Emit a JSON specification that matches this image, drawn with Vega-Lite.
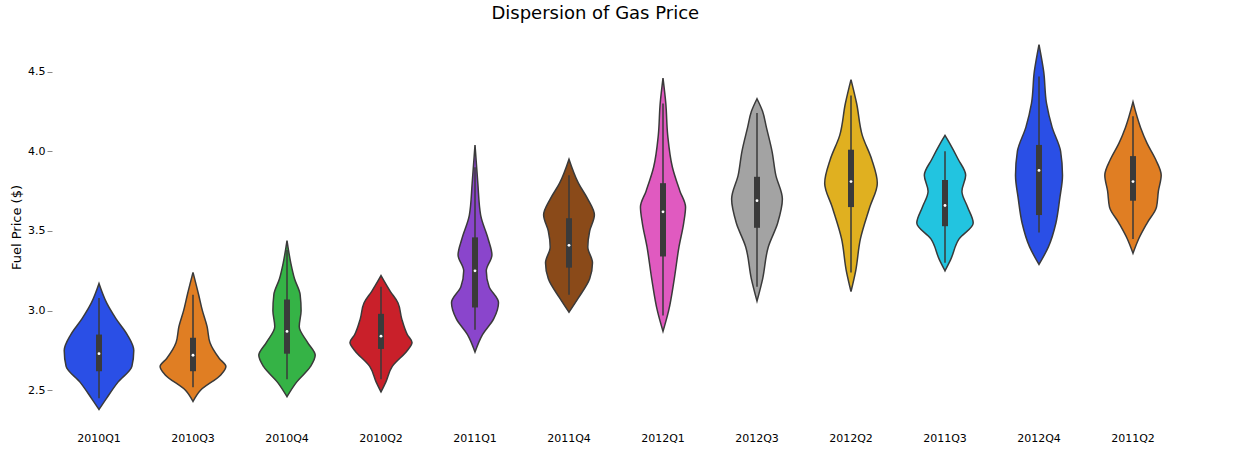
{
  "$schema": "https://vega.github.io/schema/vega-lite/v6.json",
  "title": {"text": "Dispersion of Gas Price", "fontSize": 18, "fontWeight": "normal", "font": "DejaVu Sans", "color": "black", "anchor": "middle"},
  "config": {"view": {"stroke": null}, "font": "DejaVu Sans", "axis": {"labelFontSize": 11, "titleFontSize": 13, "titleFontWeight": "normal", "labelColor": "black", "titleColor": "black"}},
  "background": "white",
  "padding": {"left": 10, "top": 5, "right": 10, "bottom": 5},
  "data": {"values": [
    {"q":"2010Q1","p":2.38,"w":0,"n":0},{"q":"2010Q1","p":2.45,"w":8,"n":-8},{"q":"2010Q1","p":2.55,"w":20,"n":-20},{"q":"2010Q1","p":2.65,"w":35,"n":-35},{"q":"2010Q1","p":2.75,"w":37,"n":-37},{"q":"2010Q1","p":2.85,"w":30,"n":-30},{"q":"2010Q1","p":2.95,"w":18,"n":-18},{"q":"2010Q1","p":3.05,"w":8,"n":-8},{"q":"2010Q1","p":3.17,"w":0,"n":0},
    {"q":"2010Q3","p":2.43,"w":0,"n":0},{"q":"2010Q3","p":2.5,"w":8,"n":-8},{"q":"2010Q3","p":2.6,"w":30,"n":-30},{"q":"2010Q3","p":2.65,"w":35,"n":-35},{"q":"2010Q3","p":2.7,"w":28,"n":-28},{"q":"2010Q3","p":2.8,"w":18,"n":-18},{"q":"2010Q3","p":2.9,"w":15,"n":-15},{"q":"2010Q3","p":3.0,"w":10,"n":-10},{"q":"2010Q3","p":3.1,"w":6,"n":-6},{"q":"2010Q3","p":3.24,"w":0,"n":0},
    {"q":"2010Q4","p":2.46,"w":0,"n":0},{"q":"2010Q4","p":2.55,"w":10,"n":-10},{"q":"2010Q4","p":2.65,"w":25,"n":-25},{"q":"2010Q4","p":2.72,"w":30,"n":-30},{"q":"2010Q4","p":2.8,"w":22,"n":-22},{"q":"2010Q4","p":2.9,"w":13,"n":-13},{"q":"2010Q4","p":3.0,"w":15,"n":-15},{"q":"2010Q4","p":3.1,"w":14,"n":-14},{"q":"2010Q4","p":3.2,"w":8,"n":-8},{"q":"2010Q4","p":3.3,"w":4,"n":-4},{"q":"2010Q4","p":3.44,"w":0,"n":0},
    {"q":"2010Q2","p":2.49,"w":0,"n":0},{"q":"2010Q2","p":2.55,"w":5,"n":-5},{"q":"2010Q2","p":2.65,"w":12,"n":-12},{"q":"2010Q2","p":2.75,"w":28,"n":-28},{"q":"2010Q2","p":2.8,"w":33,"n":-33},{"q":"2010Q2","p":2.85,"w":28,"n":-28},{"q":"2010Q2","p":2.95,"w":22,"n":-22},{"q":"2010Q2","p":3.05,"w":18,"n":-18},{"q":"2010Q2","p":3.12,"w":10,"n":-10},{"q":"2010Q2","p":3.22,"w":0,"n":0},
    {"q":"2011Q1","p":2.74,"w":0,"n":0},{"q":"2011Q1","p":2.85,"w":8,"n":-8},{"q":"2011Q1","p":2.95,"w":20,"n":-20},{"q":"2011Q1","p":3.05,"w":25,"n":-25},{"q":"2011Q1","p":3.15,"w":15,"n":-15},{"q":"2011Q1","p":3.25,"w":12,"n":-12},{"q":"2011Q1","p":3.35,"w":18,"n":-18},{"q":"2011Q1","p":3.45,"w":14,"n":-14},{"q":"2011Q1","p":3.6,"w":6,"n":-6},{"q":"2011Q1","p":3.8,"w":3,"n":-3},{"q":"2011Q1","p":4.04,"w":0,"n":0},
    {"q":"2011Q4","p":2.99,"w":0,"n":0},{"q":"2011Q4","p":3.08,"w":10,"n":-10},{"q":"2011Q4","p":3.2,"w":22,"n":-22},{"q":"2011Q4","p":3.3,"w":25,"n":-25},{"q":"2011Q4","p":3.4,"w":20,"n":-20},{"q":"2011Q4","p":3.5,"w":22,"n":-22},{"q":"2011Q4","p":3.6,"w":27,"n":-27},{"q":"2011Q4","p":3.7,"w":20,"n":-20},{"q":"2011Q4","p":3.8,"w":10,"n":-10},{"q":"2011Q4","p":3.95,"w":0,"n":0},
    {"q":"2012Q1","p":2.87,"w":0,"n":0},{"q":"2012Q1","p":3.0,"w":6,"n":-6},{"q":"2012Q1","p":3.2,"w":12,"n":-12},{"q":"2012Q1","p":3.4,"w":17,"n":-17},{"q":"2012Q1","p":3.55,"w":22,"n":-22},{"q":"2012Q1","p":3.65,"w":24,"n":-24},{"q":"2012Q1","p":3.75,"w":18,"n":-18},{"q":"2012Q1","p":3.9,"w":10,"n":-10},{"q":"2012Q1","p":4.1,"w":5,"n":-5},{"q":"2012Q1","p":4.3,"w":3,"n":-3},{"q":"2012Q1","p":4.46,"w":0,"n":0},
    {"q":"2012Q3","p":3.06,"w":0,"n":0},{"q":"2012Q3","p":3.2,"w":6,"n":-6},{"q":"2012Q3","p":3.4,"w":12,"n":-12},{"q":"2012Q3","p":3.55,"w":22,"n":-22},{"q":"2012Q3","p":3.7,"w":27,"n":-27},{"q":"2012Q3","p":3.85,"w":20,"n":-20},{"q":"2012Q3","p":4.0,"w":16,"n":-16},{"q":"2012Q3","p":4.15,"w":10,"n":-10},{"q":"2012Q3","p":4.25,"w":6,"n":-6},{"q":"2012Q3","p":4.33,"w":0,"n":0},
    {"q":"2012Q2","p":3.12,"w":0,"n":0},{"q":"2012Q2","p":3.25,"w":5,"n":-5},{"q":"2012Q2","p":3.45,"w":10,"n":-10},{"q":"2012Q2","p":3.65,"w":20,"n":-20},{"q":"2012Q2","p":3.8,"w":28,"n":-28},{"q":"2012Q2","p":3.95,"w":22,"n":-22},{"q":"2012Q2","p":4.1,"w":12,"n":-12},{"q":"2012Q2","p":4.3,"w":6,"n":-6},{"q":"2012Q2","p":4.45,"w":0,"n":0},
    {"q":"2011Q3","p":3.25,"w":0,"n":0},{"q":"2011Q3","p":3.32,"w":6,"n":-6},{"q":"2011Q3","p":3.45,"w":15,"n":-15},{"q":"2011Q3","p":3.55,"w":30,"n":-30},{"q":"2011Q3","p":3.65,"w":24,"n":-24},{"q":"2011Q3","p":3.75,"w":18,"n":-18},{"q":"2011Q3","p":3.85,"w":22,"n":-22},{"q":"2011Q3","p":3.95,"w":14,"n":-14},{"q":"2011Q3","p":4.05,"w":5,"n":-5},{"q":"2011Q3","p":4.1,"w":0,"n":0},
    {"q":"2012Q4","p":3.29,"w":0,"n":0},{"q":"2012Q4","p":3.4,"w":10,"n":-10},{"q":"2012Q4","p":3.55,"w":18,"n":-18},{"q":"2012Q4","p":3.7,"w":22,"n":-22},{"q":"2012Q4","p":3.85,"w":25,"n":-25},{"q":"2012Q4","p":4.0,"w":23,"n":-23},{"q":"2012Q4","p":4.15,"w":14,"n":-14},{"q":"2012Q4","p":4.3,"w":8,"n":-8},{"q":"2012Q4","p":4.5,"w":5,"n":-5},{"q":"2012Q4","p":4.67,"w":0,"n":0},
    {"q":"2011Q2","p":3.36,"w":0,"n":0},{"q":"2011Q2","p":3.45,"w":6,"n":-6},{"q":"2011Q2","p":3.55,"w":15,"n":-15},{"q":"2011Q2","p":3.65,"w":25,"n":-25},{"q":"2011Q2","p":3.75,"w":27,"n":-27},{"q":"2011Q2","p":3.85,"w":30,"n":-30},{"q":"2011Q2","p":3.95,"w":24,"n":-24},{"q":"2011Q2","p":4.05,"w":15,"n":-15},{"q":"2011Q2","p":4.15,"w":8,"n":-8},{"q":"2011Q2","p":4.31,"w":0,"n":0},
    {"q":"2010Q1","kind":"s","lo":2.45,"q1":2.62,"med":2.73,"q3":2.85,"hi":3.08},
    {"q":"2010Q3","kind":"s","lo":2.52,"q1":2.62,"med":2.72,"q3":2.83,"hi":3.1},
    {"q":"2010Q4","kind":"s","lo":2.57,"q1":2.73,"med":2.87,"q3":3.07,"hi":3.38},
    {"q":"2010Q2","kind":"s","lo":2.57,"q1":2.76,"med":2.84,"q3":2.98,"hi":3.15},
    {"q":"2011Q1","kind":"s","lo":2.88,"q1":3.02,"med":3.25,"q3":3.46,"hi":3.9},
    {"q":"2011Q4","kind":"s","lo":3.1,"q1":3.27,"med":3.41,"q3":3.58,"hi":3.85},
    {"q":"2012Q1","kind":"s","lo":2.97,"q1":3.34,"med":3.62,"q3":3.8,"hi":4.3},
    {"q":"2012Q3","kind":"s","lo":3.15,"q1":3.52,"med":3.69,"q3":3.84,"hi":4.24},
    {"q":"2012Q2","kind":"s","lo":3.24,"q1":3.65,"med":3.81,"q3":4.01,"hi":4.35},
    {"q":"2011Q3","kind":"s","lo":3.3,"q1":3.53,"med":3.66,"q3":3.82,"hi":4.0},
    {"q":"2012Q4","kind":"s","lo":3.49,"q1":3.6,"med":3.88,"q3":4.04,"hi":4.47},
    {"q":"2011Q2","kind":"s","lo":3.45,"q1":3.69,"med":3.81,"q3":3.97,"hi":4.22}
  ]},
  "facet": {
    "column": {"field": "q", "type": "nominal",
      "sort": ["2010Q1","2010Q3","2010Q4","2010Q2","2011Q1","2011Q4","2012Q1","2012Q3","2012Q2","2011Q3","2012Q4","2011Q2"],
      "header": {"title": null, "labelOrient": "bottom", "labelFontSize": 11, "labelPadding": 6, "labelColor": "black"}}
  },
  "spacing": 0,
  "spec": {
    "width": 94,
    "height": 400,
    "layer": [
      {
        "transform": [{"filter": "datum.kind != 's'"}],
        "mark": {"type": "area", "orient": "horizontal", "stroke": "#3a3a3a", "strokeWidth": 1.5, "interpolate": "monotone", "fillOpacity": 1},
        "encoding": {
          "y": {"field": "p", "type": "quantitative", "scale": {"domain": [2.27, 4.78], "nice": false, "zero": false}, "axis": {"values": [2.5, 3.0, 3.5, 4.0, 4.5], "format": ".1f", "grid": false, "domain": false}, "title": "Fuel Price ($)"},
          "x": {"field": "n", "type": "quantitative", "stack": null, "scale": {"domain": [-47, 47]}, "axis": null},
          "x2": {"field": "w"},
          "color": {"field": "q", "type": "nominal", "legend": null,
            "scale": {"domain": ["2010Q1","2010Q3","2010Q4","2010Q2","2011Q1","2011Q4","2012Q1","2012Q3","2012Q2","2011Q3","2012Q4","2011Q2"],
              "range": ["#2a4fe6","#e07e23","#35b346","#c9202a","#8a45cc","#8a4a19","#e05ac0","#a3a3a3","#e0b020","#22c4e0","#2a4fe6","#e07e23"]}}
        }
      },
      {
        "transform": [{"filter": "datum.kind == 's'"}],
        "mark": {"type": "rule", "color": "#3a3a3a", "strokeWidth": 1.5},
        "encoding": {"x": {"datum": 0}, "y": {"field": "lo", "type": "quantitative"}, "y2": {"field": "hi"}}
      },
      {
        "transform": [{"filter": "datum.kind == 's'"}],
        "mark": {"type": "rule", "color": "#3a3a3a", "strokeWidth": 6},
        "encoding": {"x": {"datum": 0}, "y": {"field": "q1", "type": "quantitative"}, "y2": {"field": "q3"}}
      },
      {
        "transform": [{"filter": "datum.kind == 's'"}],
        "mark": {"type": "point", "filled": true, "color": "white", "size": 8, "opacity": 1},
        "encoding": {"x": {"datum": 0}, "y": {"field": "med", "type": "quantitative"}}
      }
    ]
  }
}
